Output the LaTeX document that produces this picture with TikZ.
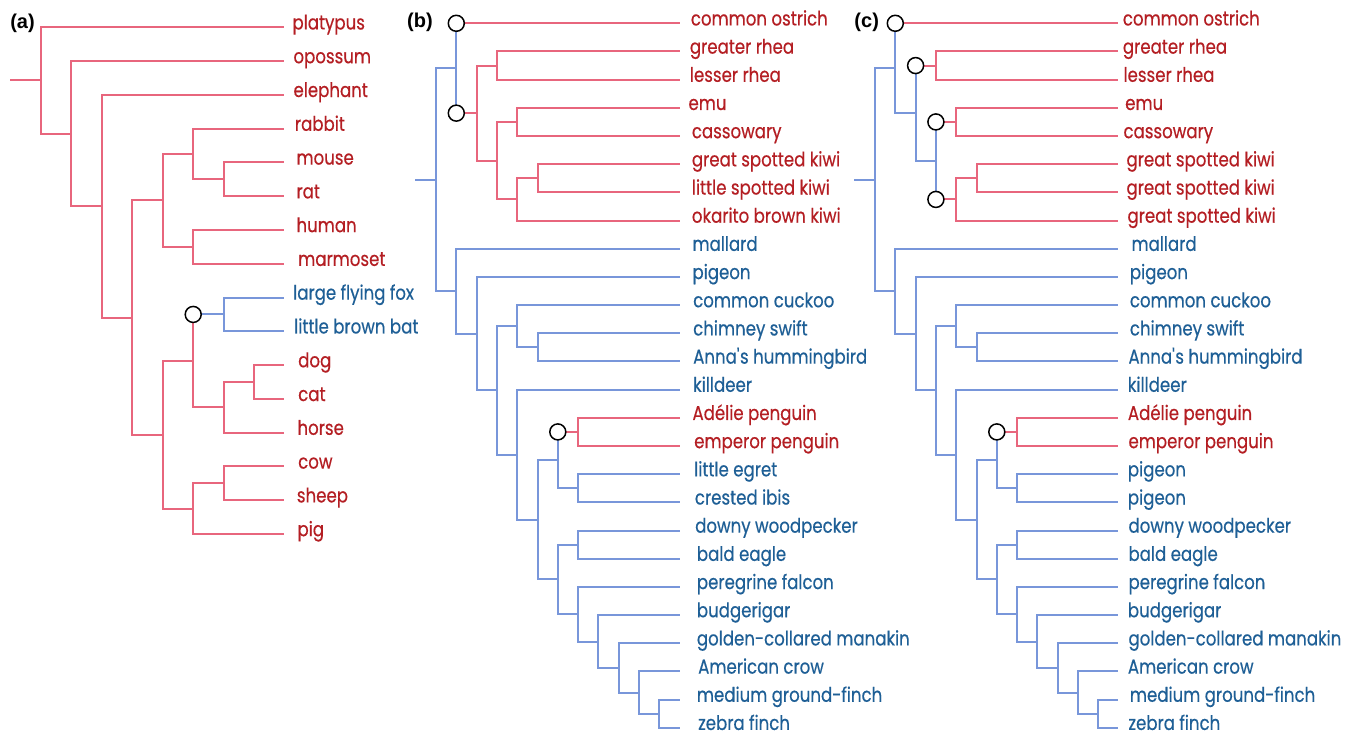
\documentclass[tikz,border=0pt]{standalone}
\usepackage{fontspec}
\newfontfamily\labfont[FakeStretch=0.83,FakeBold=0.4]{Poppins}
\newfontfamily\panfont{Liberation Sans}
\definecolor{linered}{HTML}{E8667D}
\definecolor{lineblue}{HTML}{7896DA}
\definecolor{txtred}{HTML}{B41E23}
\definecolor{txtblue}{HTML}{1E5F96}
\tikzset{
  rl/.style={draw=linered, line width=2pt},
  bl/.style={draw=lineblue, line width=2pt},
  rt/.style={text=txtred, font=\labfont\fontsize{20pt}{21pt}\selectfont, anchor=mid west, inner ysep=0pt},
  bt/.style={text=txtblue, font=\labfont\fontsize{20pt}{21pt}\selectfont, anchor=mid west, inner ysep=0pt},
  circ/.style={circle, draw=black, fill=white, line width=1.5pt, minimum size=16pt, inner sep=0pt},
  plab/.style={font=\panfont\bfseries\fontsize{20pt}{21pt}\selectfont, inner sep=0pt, anchor=center}
}
\newcommand\leaf[6]{\node[#1, inner xsep=#5pt] (#2) at (#3,#4) {#6};}
\begin{document}
\begin{tikzpicture}[x=1pt,y=-1pt]
\useasboundingbox (0,0) rectangle (1352,735);
\fill[white] (0,0) rectangle (1352,735);
% ---------------- panel labels
\node[plab] (pa) at (22.5,23.5) {(a)};
\node[plab] (pb) at (420,22.7) {(b)};
\node[plab] (pc) at (866.7,22.7) {(c)};

% ================= PANEL (a)
\leaf{rt}{al0}{283.7}{27.3}{8.6}{platypus}
\leaf{rt}{al1}{283.7}{61.08}{9.6}{opossum}
\leaf{rt}{al2}{283.7}{94.86}{9.6}{elephant}
\leaf{rt}{al3}{283.7}{128.64}{11}{rabbit}
\leaf{rt}{al4}{283.7}{162.42}{12.6}{mouse}
\leaf{rt}{al5}{283.7}{196.2}{12.6}{rat}
\leaf{rt}{al6}{283.7}{229.98}{12.6}{human}
\leaf{rt}{al7}{283.7}{263.76}{14.3}{marmoset}
\leaf{bt}{al8}{283.7}{297.54}{9.3}{large flying fox}
\leaf{bt}{al9}{283.7}{331.32}{10.3}{little brown bat}
\leaf{rt}{al10}{283.7}{365.1}{14.3}{dog}
\leaf{rt}{al11}{283.7}{398.88}{14.3}{cat}
\leaf{rt}{al12}{283.7}{432.66}{13.6}{horse}
\leaf{rt}{al13}{283.7}{466.44}{14.3}{cow}
\leaf{rt}{al14}{283.7}{500.22}{13}{sheep}
\leaf{rt}{al15}{283.7}{534}{13.6}{pig}

\coordinate (anS) at (10,80.48);
\coordinate (anR) at (40.7,80.48);
\coordinate (an2) at (71.2,133.66);
\coordinate (an3) at (101.7,206.23);
\coordinate (an4) at (132.2,317.6);
\coordinate (an5) at (162.7,200.42);
\coordinate (an6) at (193.2,153.98);
\coordinate (anRod) at (223.7,179.31);
\coordinate (anPri) at (193.2,246.87);
\coordinate (an7) at (162.7,434.78);
\coordinate (an8) at (193.2,360.88);
\coordinate (anCc) at (193.2,314.43);
\coordinate (anBat) at (223.7,314.43);
\coordinate (anCar) at (223.7,407.33);
\coordinate (anDC) at (254.2,381.99);
\coordinate (anUng) at (193.2,508.67);
\coordinate (anCS) at (223.7,483.33);

\draw[rl] (anS) -- (anR);
\draw[rl] (anR) |- (al0.mid west);
\draw[rl] (anR) |- (an2);
\draw[rl] (an2) |- (al1.mid west);
\draw[rl] (an2) |- (an3);
\draw[rl] (an3) |- (al2.mid west);
\draw[rl] (an3) |- (an4);
\draw[rl] (an4) |- (an5);
\draw[rl] (an4) |- (an7);
\draw[rl] (an5) |- (an6);
\draw[rl] (an5) |- (anPri);
\draw[rl] (an6) |- (al3.mid west);
\draw[rl] (an6) |- (anRod);
\draw[rl] (anRod) |- (al4.mid west);
\draw[rl] (anRod) |- (al5.mid west);
\draw[rl] (anPri) |- (al6.mid west);
\draw[rl] (anPri) |- (al7.mid west);
\draw[rl] (an7) |- (an8);
\draw[rl] (an7) |- (anUng);
\draw[rl] (an8) |- (anCc);
\draw[rl] (an8) |- (anCar);
\draw[bl] (anCc) -- (anBat);
\draw[bl] (anBat) |- (al8.mid west);
\draw[bl] (anBat) |- (al9.mid west);
\draw[rl] (anCar) |- (anDC);
\draw[rl] (anCar) |- (al12.mid west);
\draw[rl] (anDC) |- (al10.mid west);
\draw[rl] (anDC) |- (al11.mid west);
\draw[rl] (anUng) |- (anCS);
\draw[rl] (anUng) |- (al15.mid west);
\draw[rl] (anCS) |- (al13.mid west);
\draw[rl] (anCS) |- (al14.mid west);
\node[circ] (anC) at (anCc) {};

% ================= PANEL (b)
\leaf{rt}{bl0}{679.5}{23.3}{11.2}{common ostrich}
\leaf{rt}{bl1}{679.5}{51.48}{10.2}{greater rhea}
\leaf{rt}{bl2}{679.5}{79.66}{10.2}{lesser rhea}
\leaf{rt}{bl3}{679.5}{107.84}{8.8}{emu}
\leaf{rt}{bl4}{679.5}{136.02}{12.2}{cassowary}
\leaf{rt}{bl5}{679.5}{164.2}{12.2}{great spotted kiwi}
\leaf{rt}{bl6}{679.5}{192.38}{12.2}{little spotted kiwi}
\leaf{rt}{bl7}{679.5}{220.56}{12.2}{okarito brown kiwi}
\leaf{bt}{bl8}{679.5}{248.74}{12.8}{mallard}
\leaf{bt}{bl9}{679.5}{276.92}{12.8}{pigeon}
\leaf{bt}{bl10}{679.5}{305.1}{13.5}{common cuckoo}
\leaf{bt}{bl11}{679.5}{333.28}{13.5}{chimney swift}
\leaf{bt}{bl12}{679.5}{361.46}{13.5}{Anna\textquotesingle s hummingbird}
\leaf{bt}{bl13}{679.5}{389.64}{13.5}{killdeer}
\leaf{rt}{bl14}{679.5}{417.82}{12.8}{Adélie penguin}
\leaf{rt}{bl15}{679.5}{446}{14.5}{emperor penguin}
\leaf{bt}{bl16}{679.5}{474.18}{14.5}{little egret}
\leaf{bt}{bl17}{679.5}{502.36}{15.2}{crested ibis}
\leaf{bt}{bl18}{679.5}{530.54}{15.5}{downy woodpecker}
\leaf{bt}{bl19}{679.5}{558.72}{17.2}{bald eagle}
\leaf{bt}{bl20}{679.5}{586.9}{17.2}{peregrine falcon}
\leaf{bt}{bl21}{679.5}{615.08}{17.2}{budgerigar}
\leaf{bt}{bl22}{679.5}{643.26}{17.2}{golden-collared manakin}
\leaf{bt}{bl23}{679.5}{671.44}{18.5}{American crow}
\leaf{bt}{bl24}{679.5}{699.62}{17.2}{medium ground-finch}
\leaf{bt}{bl25}{679.5}{727.8}{18.5}{zebra finch}

\coordinate (bnS) at (415,179.72);
\coordinate (bnR) at (436,179.72);
\coordinate (bnRat) at (456.3,68.21);
\coordinate (bnC1c) at (456.3,23.3);
\coordinate (bnC2c) at (456.3,113.13);
\coordinate (bnRR) at (476.6,113.13);
\coordinate (bnRh) at (496.9,65.57);
\coordinate (bnEK) at (496.9,160.68);
\coordinate (bnEC) at (517.2,121.93);
\coordinate (bnKi) at (517.2,199.43);
\coordinate (bnGL) at (537.5,178.29);
\coordinate (bnNeo) at (456.3,291.22);
\coordinate (bnPig) at (476.6,333.7);
\coordinate (bnCuk) at (496.9,390.47);
\coordinate (bnCu) at (517.2,326.24);
\coordinate (bnSw) at (537.5,347.37);
\coordinate (bnKill) at (517.2,454.7);
\coordinate (bnWa) at (537.5,519.76);
\coordinate (bnPE) at (557.8,460.09);
\coordinate (bnC3c) at (557.8,431.91);
\coordinate (bnPen) at (578.1,431.91);
\coordinate (bnEI) at (578.1,488.27);
\coordinate (bnLand) at (557.8,579.42);
\coordinate (bnWE) at (578.1,544.63);
\coordinate (bnFal) at (578.1,614.2);
\coordinate (bnBud) at (598.4,641.5);
\coordinate (bnMan) at (618.7,667.92);
\coordinate (bnCrow) at (639,692.58);
\coordinate (bnFin) at (659.3,713.71);

\draw[bl] (bnS) -- (bnR);
\draw[bl] (bnR) |- (bnRat);
\draw[bl] (bnR) |- (bnNeo);
\draw[bl] (bnRat) |- (bnC1c);
\draw[bl] (bnRat) |- (bnC2c);
\draw[rl] (bnC1c) -- (bl0.mid west);
\draw[rl] (bnC2c) -- (bnRR);
\draw[rl] (bnRR) |- (bnRh);
\draw[rl] (bnRR) |- (bnEK);
\draw[rl] (bnRh) |- (bl1.mid west);
\draw[rl] (bnRh) |- (bl2.mid west);
\draw[rl] (bnEK) |- (bnEC);
\draw[rl] (bnEK) |- (bnKi);
\draw[rl] (bnEC) |- (bl3.mid west);
\draw[rl] (bnEC) |- (bl4.mid west);
\draw[rl] (bnKi) |- (bnGL);
\draw[rl] (bnKi) |- (bl7.mid west);
\draw[rl] (bnGL) |- (bl5.mid west);
\draw[rl] (bnGL) |- (bl6.mid west);
\draw[bl] (bnNeo) |- (bl8.mid west);
\draw[bl] (bnNeo) |- (bnPig);
\draw[bl] (bnPig) |- (bl9.mid west);
\draw[bl] (bnPig) |- (bnCuk);
\draw[bl] (bnCuk) |- (bnCu);
\draw[bl] (bnCuk) |- (bnKill);
\draw[bl] (bnCu) |- (bl10.mid west);
\draw[bl] (bnCu) |- (bnSw);
\draw[bl] (bnSw) |- (bl11.mid west);
\draw[bl] (bnSw) |- (bl12.mid west);
\draw[bl] (bnKill) |- (bl13.mid west);
\draw[bl] (bnKill) |- (bnWa);
\draw[bl] (bnWa) |- (bnPE);
\draw[bl] (bnWa) |- (bnLand);
\draw[bl] (bnPE) |- (bnC3c);
\draw[bl] (bnPE) |- (bnEI);
\draw[rl] (bnC3c) -- (bnPen);
\draw[rl] (bnPen) |- (bl14.mid west);
\draw[rl] (bnPen) |- (bl15.mid west);
\draw[bl] (bnEI) |- (bl16.mid west);
\draw[bl] (bnEI) |- (bl17.mid west);
\draw[bl] (bnLand) |- (bnWE);
\draw[bl] (bnLand) |- (bnFal);
\draw[bl] (bnWE) |- (bl18.mid west);
\draw[bl] (bnWE) |- (bl19.mid west);
\draw[bl] (bnFal) |- (bl20.mid west);
\draw[bl] (bnFal) |- (bnBud);
\draw[bl] (bnBud) |- (bl21.mid west);
\draw[bl] (bnBud) |- (bnMan);
\draw[bl] (bnMan) |- (bl22.mid west);
\draw[bl] (bnMan) |- (bnCrow);
\draw[bl] (bnCrow) |- (bl23.mid west);
\draw[bl] (bnCrow) |- (bnFin);
\draw[bl] (bnFin) |- (bl24.mid west);
\draw[bl] (bnFin) |- (bl25.mid west);
\node[circ] (bnC1) at (bnC1c) {};
\node[circ] (bnC2) at (bnC2c) {};
\node[circ] (bnC3) at (bnC3c) {};

% ================= PANEL (c)
\leaf{rt}{cl0}{1118}{23.3}{4.7}{common ostrich}
\leaf{rt}{cl1}{1118}{51.48}{4.7}{greater rhea}
\leaf{rt}{cl2}{1118}{79.66}{5.3}{lesser rhea}
\leaf{rt}{cl3}{1118}{107.84}{7}{emu}
\leaf{rt}{cl4}{1118}{136.02}{5.3}{cassowary}
\leaf{rt}{cl5}{1118}{164.2}{8.3}{great spotted kiwi}
\leaf{rt}{cl6}{1118}{192.38}{8.3}{great spotted kiwi}
\leaf{rt}{cl7}{1118}{220.56}{9.3}{great spotted kiwi}
\leaf{bt}{cl8}{1118}{248.74}{13.3}{mallard}
\leaf{bt}{cl9}{1118}{276.92}{11.7}{pigeon}
\leaf{bt}{cl10}{1118}{305.1}{11.7}{common cuckoo}
\leaf{bt}{cl11}{1118}{333.28}{11.7}{chimney swift}
\leaf{bt}{cl12}{1118}{361.46}{10.3}{Anna\textquotesingle s hummingbird}
\leaf{bt}{cl13}{1118}{389.64}{9.7}{killdeer}
\leaf{rt}{cl14}{1118}{417.82}{9.7}{Adélie penguin}
\leaf{rt}{cl15}{1118}{446}{10.3}{emperor penguin}
\leaf{bt}{cl16}{1118}{474.18}{9.7}{pigeon}
\leaf{bt}{cl17}{1118}{502.36}{9.7}{pigeon}
\leaf{bt}{cl18}{1118}{530.54}{10.3}{downy woodpecker}
\leaf{bt}{cl19}{1118}{558.72}{10.3}{bald eagle}
\leaf{bt}{cl20}{1118}{586.9}{10.3}{peregrine falcon}
\leaf{bt}{cl21}{1118}{615.08}{9.7}{budgerigar}
\leaf{bt}{cl22}{1118}{643.26}{10.3}{golden-collared manakin}
\leaf{bt}{cl23}{1118}{671.44}{9.7}{American crow}
\leaf{bt}{cl24}{1118}{699.62}{11.7}{medium ground-finch}
\leaf{bt}{cl25}{1118}{727.8}{10.3}{zebra finch}

\coordinate (cnS) at (854.3,179.72);
\coordinate (cnR) at (875,179.72);
\coordinate (cnRat) at (895.3,68.21);
\coordinate (cnC1c) at (895.3,23.3);
\coordinate (cnRR) at (915.6,113.13);
\coordinate (cnC2c) at (915.6,65.57);
\coordinate (cnRh) at (935.9,65.57);
\coordinate (cnK) at (935.9,160.68);
\coordinate (cnC3c) at (935.9,121.93);
\coordinate (cnC4c) at (935.9,199.43);
\coordinate (cnEC) at (956.2,121.93);
\coordinate (cnKi) at (956.2,199.43);
\coordinate (cnGL) at (976.5,178.29);
\coordinate (cnNeo) at (895.3,291.22);
\coordinate (cnPig) at (915.6,333.7);
\coordinate (cnCuk) at (935.9,390.47);
\coordinate (cnCu) at (956.2,326.24);
\coordinate (cnSw) at (976.5,347.37);
\coordinate (cnKill) at (956.2,454.7);
\coordinate (cnWa) at (976.5,519.76);
\coordinate (cnPE) at (996.8,460.09);
\coordinate (cnC5c) at (996.8,431.91);
\coordinate (cnPen) at (1017.1,431.91);
\coordinate (cnEI) at (1017.1,488.27);
\coordinate (cnLand) at (996.8,579.42);
\coordinate (cnWE) at (1017.1,544.63);
\coordinate (cnFal) at (1017.1,614.2);
\coordinate (cnBud) at (1037.4,641.5);
\coordinate (cnMan) at (1057.7,667.92);
\coordinate (cnCrow) at (1078,692.58);
\coordinate (cnFin) at (1098.3,713.71);

\draw[bl] (cnS) -- (cnR);
\draw[bl] (cnR) |- (cnRat);
\draw[bl] (cnR) |- (cnNeo);
\draw[bl] (cnRat) |- (cnC1c);
\draw[bl] (cnRat) |- (cnRR);
\draw[rl] (cnC1c) -- (cl0.mid west);
\draw[bl] (cnRR) |- (cnC2c);
\draw[bl] (cnRR) |- (cnK);
\draw[rl] (cnC2c) -- (cnRh);
\draw[rl] (cnRh) |- (cl1.mid west);
\draw[rl] (cnRh) |- (cl2.mid west);
\draw[bl] (cnK) |- (cnC3c);
\draw[bl] (cnK) |- (cnC4c);
\draw[rl] (cnC3c) -- (cnEC);
\draw[rl] (cnEC) |- (cl3.mid west);
\draw[rl] (cnEC) |- (cl4.mid west);
\draw[rl] (cnC4c) -- (cnKi);
\draw[rl] (cnKi) |- (cnGL);
\draw[rl] (cnKi) |- (cl7.mid west);
\draw[rl] (cnGL) |- (cl5.mid west);
\draw[rl] (cnGL) |- (cl6.mid west);
\draw[bl] (cnNeo) |- (cl8.mid west);
\draw[bl] (cnNeo) |- (cnPig);
\draw[bl] (cnPig) |- (cl9.mid west);
\draw[bl] (cnPig) |- (cnCuk);
\draw[bl] (cnCuk) |- (cnCu);
\draw[bl] (cnCuk) |- (cnKill);
\draw[bl] (cnCu) |- (cl10.mid west);
\draw[bl] (cnCu) |- (cnSw);
\draw[bl] (cnSw) |- (cl11.mid west);
\draw[bl] (cnSw) |- (cl12.mid west);
\draw[bl] (cnKill) |- (cl13.mid west);
\draw[bl] (cnKill) |- (cnWa);
\draw[bl] (cnWa) |- (cnPE);
\draw[bl] (cnWa) |- (cnLand);
\draw[bl] (cnPE) |- (cnC5c);
\draw[bl] (cnPE) |- (cnEI);
\draw[rl] (cnC5c) -- (cnPen);
\draw[rl] (cnPen) |- (cl14.mid west);
\draw[rl] (cnPen) |- (cl15.mid west);
\draw[bl] (cnEI) |- (cl16.mid west);
\draw[bl] (cnEI) |- (cl17.mid west);
\draw[bl] (cnLand) |- (cnWE);
\draw[bl] (cnLand) |- (cnFal);
\draw[bl] (cnWE) |- (cl18.mid west);
\draw[bl] (cnWE) |- (cl19.mid west);
\draw[bl] (cnFal) |- (cl20.mid west);
\draw[bl] (cnFal) |- (cnBud);
\draw[bl] (cnBud) |- (cl21.mid west);
\draw[bl] (cnBud) |- (cnMan);
\draw[bl] (cnMan) |- (cl22.mid west);
\draw[bl] (cnMan) |- (cnCrow);
\draw[bl] (cnCrow) |- (cl23.mid west);
\draw[bl] (cnCrow) |- (cnFin);
\draw[bl] (cnFin) |- (cl24.mid west);
\draw[bl] (cnFin) |- (cl25.mid west);
\node[circ] (cnC1) at (cnC1c) {};
\node[circ] (cnC2) at (cnC2c) {};
\node[circ] (cnC3) at (cnC3c) {};
\node[circ] (cnC4) at (cnC4c) {};
\node[circ] (cnC5) at (cnC5c) {};
\end{tikzpicture}
\end{document}
